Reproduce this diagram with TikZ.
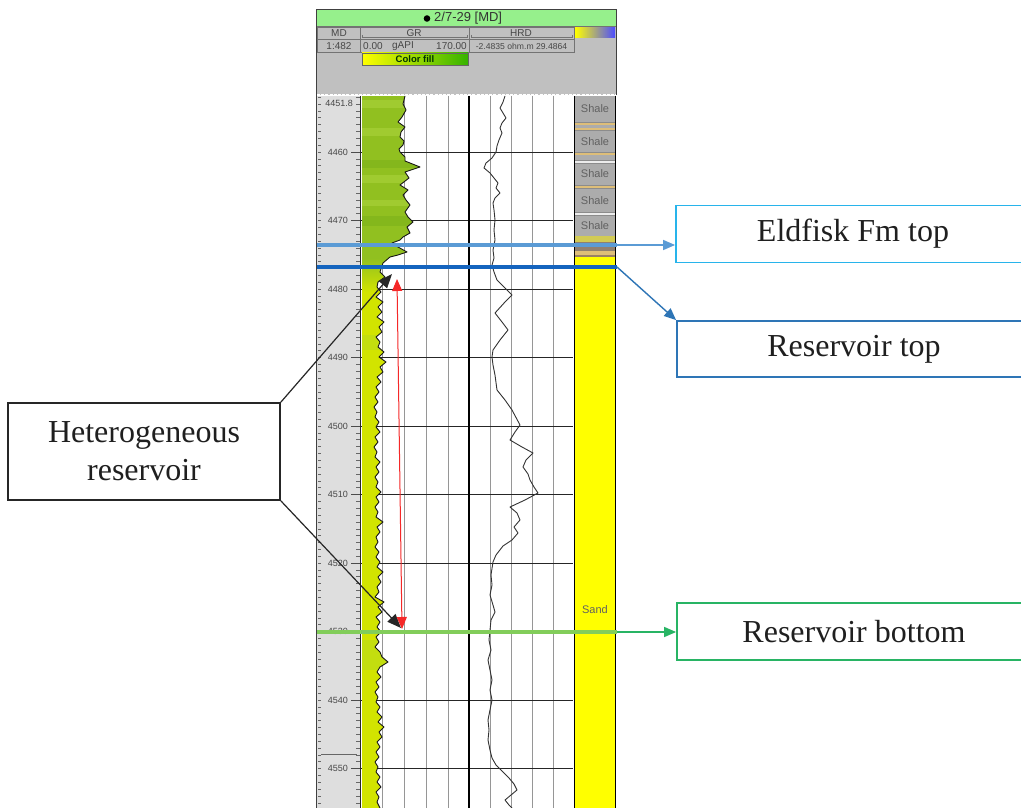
\documentclass[tikz,border=0pt]{standalone}
\usepackage{fontspec}
\setmainfont{Liberation Serif}
\newfontfamily\lsans{Liberation Sans}
\usetikzlibrary{arrows.meta}
\definecolor{eldline}{RGB}{91,155,213}
\definecolor{restopline}{RGB}{20,100,190}
\definecolor{resbotline}{RGB}{130,205,90}
\definecolor{eldbox}{RGB}{40,180,235}
\definecolor{restopbox}{RGB}{46,117,182}
\definecolor{resbotbox}{RGB}{40,180,100}
\definecolor{shalegray}{RGB}{172,172,172}
\definecolor{tanc}{RGB}{222,190,120}
\definecolor{sandyellow}{RGB}{255,255,0}
\definecolor{grgreen}{RGB}{145,192,32}
\definecolor{grlight}{RGB}{160,203,48}
\definecolor{grdark}{RGB}{132,183,28}
\definecolor{grsand}{RGB}{210,228,0}
\definecolor{grsandb}{RGB}{195,222,15}
\definecolor{trackgray}{RGB}{222,222,222}
\definecolor{headgray}{RGB}{192,192,192}
\definecolor{headgreen}{RGB}{150,240,140}
\definecolor{gridgray}{RGB}{150,150,150}
\definecolor{redarrow}{RGB}{245,40,40}
\def\grpts{(405,96) -- (403,104) -- (406,110) -- (402,117) -- (398,122) -- (405,127) -- (401,132) -- (400,137) -- (404,141) -- (403,145) -- (399,149) -- (400,152) -- (405,157) -- (405,161) -- (420,167) -- (405,172) -- (409,178) -- (400,185) -- (408,190) -- (403,195) -- (406,200) -- (410,205) -- (405,212) -- (408,217) -- (413,222) -- (407,227) -- (410,233) -- (403,237) -- (400,240) -- (392,243) -- (398,247) -- (407,252) -- (398,255) -- (390,257) -- (383,263) -- (380,272) -- (385,277) -- (378,282) -- (377,287) -- (381,292) -- (376,297) -- (383,302) -- (378,307) -- (382,312) -- (377,317) -- (384,322) -- (379,327) -- (382,332) -- (376,337) -- (380,342) -- (378,347) -- (384,352) -- (379,357) -- (386,362) -- (380,367) -- (383,372) -- (377,377) -- (381,382) -- (376,387) -- (379,392) -- (375,397) -- (378,402) -- (374,407) -- (377,412) -- (375,417) -- (379,422) -- (376,427) -- (380,432) -- (375,437) -- (378,442) -- (374,447) -- (377,452) -- (375,457) -- (380,462) -- (376,467) -- (379,472) -- (375,477) -- (378,482) -- (376,487) -- (381,492) -- (376,497) -- (379,502) -- (375,507) -- (378,512) -- (376,517) -- (383,522) -- (377,527) -- (380,532) -- (376,537) -- (378,542) -- (375,547) -- (379,552) -- (376,557) -- (380,562) -- (377,567) -- (383,572) -- (378,577) -- (381,582) -- (377,587) -- (379,592) -- (375,597) -- (384,602) -- (378,607) -- (382,612) -- (376,617) -- (380,622) -- (377,627) -- (381,632) -- (376,637) -- (379,642) -- (375,647) -- (380,652) -- (382,657) -- (388,662) -- (380,667) -- (377,672) -- (381,677) -- (376,682) -- (379,687) -- (375,692) -- (378,697) -- (376,702) -- (380,707) -- (377,712) -- (382,717) -- (378,722) -- (384,727) -- (379,732) -- (382,737) -- (377,742) -- (380,747) -- (376,752) -- (379,757) -- (375,762) -- (378,767) -- (376,772) -- (380,777) -- (377,782) -- (381,787) -- (376,792) -- (379,797) -- (377,802) -- (380,808)}
\def\hrdpts{(505,96) -- (503,102) -- (500,108) -- (503,113) -- (506,118) -- (502,123) -- (500,128) -- (502,133) -- (499,140) -- (497,146) -- (496,152) -- (492,158) -- (486,163) -- (484,168) -- (490,173) -- (494,178) -- (498,183) -- (496,188) -- (500,193) -- (495,198) -- (493,203) -- (494,210) -- (495,220) -- (494,230) -- (495,240) -- (493,250) -- (494,258) -- (492,265) -- (494,272) -- (497,280) -- (505,288) -- (512,295) -- (505,302) -- (495,313) -- (502,322) -- (508,330) -- (500,340) -- (493,350) -- (492,357) -- (493,365) -- (495,375) -- (497,390) -- (505,400) -- (512,410) -- (520,425) -- (515,432) -- (510,440) -- (522,447) -- (533,453) -- (526,460) -- (523,467) -- (528,474) -- (530,480) -- (534,487) -- (538,493) -- (525,500) -- (510,507) -- (517,513) -- (520,520) -- (514,527) -- (518,533) -- (512,540) -- (503,546) -- (496,555) -- (493,562) -- (491,575) -- (492,585) -- (490,595) -- (493,605) -- (495,612) -- (491,620) -- (490,630) -- (489,640) -- (491,650) -- (488,660) -- (490,670) -- (492,680) -- (490,690) -- (492,700) -- (490,710) -- (488,720) -- (489,730) -- (488,740) -- (490,750) -- (492,758) -- (496,765) -- (503,772) -- (509,778) -- (514,784) -- (517,790) -- (511,795) -- (505,800) -- (509,805) -- (512,808)}
\begin{document}
\begin{tikzpicture}[x=1pt,y=-1pt,
  callout/.style={draw,line width=1.8pt,fill=white,inner sep=0pt,font=\fontsize{32}{38}\selectfont,text=black!88,align=center},
  mkline/.style={line width=4.5pt},
  gridln/.style={gridgray,line width=0.8pt},
  hgrid/.style={black!85,line width=0.9pt},
  cellline/.style={black!55,line width=0.8pt},
  headtxt/.style={font=\lsans\fontsize{10}{11}\selectfont,text=black!72,inner sep=0pt},
  depthtxt/.style={font=\lsans\fontsize{9}{10}\selectfont,text=black!72,inner sep=0pt,anchor=east},
  lithtxt/.style={font=\lsans\fontsize{11}{12}\selectfont,text=black!62,inner sep=0pt},
  conn/.style={line width=1.4pt,-{Triangle[length=12pt,width=10pt]}},
  blackconn/.style={black!85,line width=1.2pt,-{Triangle[length=14pt,width=11pt]}}]
\clip (0,0) rectangle (1021,808);
\fill[white] (0,0) rectangle (1021,808);
% ---------- header ----------
\fill[headgray] (317,26) rectangle (616,95);
\fill[headgreen] (317,10) rectangle (616,26);
\draw[black!55,line width=0.8pt] (317,26) -- (616,26);
\fill[black] (427,18.5) circle (3.3pt);
\node[font=\lsans\fontsize{13}{14}\selectfont,text=black!80,inner sep=0pt,anchor=west] (wellname) at (434,18.5) {2/7-29 [MD]};
\draw[cellline] (317,27.5) rectangle (360,39.5);
\draw[cellline] (317,39.5) rectangle (360,52);
\draw[cellline] (360,27.5) rectangle (469,39.5);
\draw[cellline] (360,39.5) rectangle (469,52);
\draw[cellline] (469,27.5) rectangle (574,39.5);
\draw[cellline] (469,39.5) rectangle (574,52);
\draw[black!55,line width=0.7pt] (362,35) -- (362,37.5) -- (467,37.5) -- (467,35);
\draw[black!55,line width=0.7pt] (471,35) -- (471,37.5) -- (572,37.5) -- (572,35);
\node[headtxt] (hmd) at (339,33) {MD};
\node[headtxt] (hgr) at (414,33) {GR};
\node[headtxt] (hhrd) at (521,33) {HRD};
\node[headtxt] (hscale) at (339,46) {1:482};
\node[headtxt,anchor=west] (hgrmin) at (363,46) {0.00};
\node[headtxt] (hgrunit) at (403,46) {gAPI};
\node[headtxt,anchor=east] (hgrmax) at (467,46) {170.00};
\node[headtxt,font=\lsans\fontsize{8.6}{9}\selectfont] (hhrdscale) at (521.5,46) {-2.4835 ohm.m 29.4864};
\shade[left color=yellow,right color=yellow!30!green!70!black] (362,53) rectangle (468,65);
\draw[black!60,line width=0.6pt] (362,53) rectangle (468,65);
\node[font=\lsans\bfseries\fontsize{9.5}{10}\selectfont,text=black!50!green!40!black,inner sep=0pt] (cfill) at (415,59) {Color fill};
\shade[left color=yellow,middle color=pink!70!red,right color=blue!70] (575,28) rectangle (615,38);
\draw[white,line width=1.3pt,dash pattern=on 3pt off 1.2pt] (317,94.5) -- (616,94.5);
% ---------- tracks ----------
\fill[trackgray] (317,96) rectangle (360,808);
\foreach \gx in {382,404,426,448,490,511,532,553}{\draw[gridln] (\gx,96) -- (\gx,808);}
\foreach \d in {4460,4470,...,4550}{\draw[hgrid] (360,{152+(\d-4460)*6.85}) -- (573,{152+(\d-4460)*6.85});}
% GR fill
\begin{scope}
\clip (362,96) -- \grpts -- (362,808) -- cycle;
\fill[grgreen] (362,96) rectangle (425,262);
\fill[grlight] (362,100) rectangle (425,108);
\fill[grlight] (362,128) rectangle (425,136);
\fill[grdark] (362,160) rectangle (425,168);
\fill[grlight] (362,175) rectangle (425,183);
\fill[grlight] (362,200) rectangle (425,206);
\fill[grdark] (362,216) rectangle (425,226);
\shade[top color=grgreen,bottom color=grsand] (362,258) rectangle (425,292);
\fill[grsand] (362,292) rectangle (425,808);
\fill[grsandb] (362,335) rectangle (425,350);
\fill[grsandb] (362,640) rectangle (425,670);
\end{scope}
\draw[black!85,line width=1pt] (360,96) -- (360,808);
\draw[black,line width=1.5pt] (469,96) -- (469,808);
\draw[black!90,line width=0.9pt,line join=round] \grpts;
\draw[black!80,line width=0.9pt,line join=round] \hrdpts;
% ---------- lithology ----------
\fill[shalegray] (575,96) rectangle (615,236);
\fill[tanc] (575,122) rectangle (615,124.5);
\fill[tanc] (575,127.5) rectangle (615,130);
\fill[tanc] (575,152) rectangle (615,155);
\fill[white!85!gray] (575,160.5) rectangle (615,163);
\fill[tanc] (575,185) rectangle (615,188);
\fill[white!85!gray] (575,212.5) rectangle (615,215);
\foreach \ly in {122,130,152,160.5,163,185,188,212.5,215}{\draw[black!45,line width=0.5pt] (575,\ly) -- (615,\ly);}
\fill[yellow!60!gray] (575,236) rectangle (615,242);
\fill[gray!75!brown] (575,242) rectangle (615,251);
\fill[tanc] (575,251) rectangle (615,255);
\fill[gray!60!brown] (575,255) rectangle (615,257);
\fill[sandyellow] (575,257) rectangle (615,808);
\node[lithtxt] (sh1) at (595,109) {Shale};
\node[lithtxt] (sh2) at (595,142) {Shale};
\node[lithtxt] (sh3) at (595,174) {Shale};
\node[lithtxt] (sh4) at (595,201) {Shale};
\node[lithtxt] (sh5) at (595,226) {Shale};
\node[lithtxt] (sand) at (595,610) {Sand};
\draw[black,line width=1.8pt] (574.5,96) -- (574.5,808);
\draw[black,line width=1.8pt] (615.5,96) -- (615.5,808);
% ---------- depth scale ----------
\foreach \d in {4452,...,4558}{\draw[black!60,line width=0.5pt] (356,{152+(\d-4460)*6.85}) -- (360,{152+(\d-4460)*6.85}); \draw[black!60,line width=0.5pt] (318,{152+(\d-4460)*6.85}) -- (321,{152+(\d-4460)*6.85});}
\foreach \d in {4460,4470,...,4550}{\draw[black!70,line width=0.7pt] (351,{152+(\d-4460)*6.85}) -- (360,{152+(\d-4460)*6.85}); \node[depthtxt] (dl\d) at (348,{152+(\d-4460)*6.85}) {\d};}
\node[depthtxt] (dltop) at (353,103) {4451.8};
\draw[black!60,line width=1pt] (321,754) -- (357,754);
% ---------- panel border ----------
\draw[black!75,line width=1.5pt] (316.5,9.5) -- (316.5,808);
\draw[black!75,line width=1.5pt] (316.5,9.5) -- (616.5,9.5) -- (616.5,95);
% ---------- marker lines ----------
\coordinate (eldL) at (317,245);
\coordinate (eldR) at (617,245);
\coordinate (rtL) at (317,267);
\coordinate (rtR) at (617,267);
\coordinate (rbL) at (317,632);
\coordinate (rbR) at (617,632);
\draw[mkline,eldline] (eldL) -- (eldR);
\draw[mkline,restopline] (rtL) -- (rtR);
\draw[mkline,resbotline] (rbL) -- (rbR);
% ---------- callouts ----------
\node[callout,draw=eldbox,minimum width=354pt,minimum height=57pt] (eld) at (853,234) {Eldfisk Fm top};
\node[callout,draw=restopbox,minimum width=354pt,minimum height=56pt] (rtop) at (854,349) {Reservoir top};
\node[callout,draw=resbotbox,minimum width=354pt,minimum height=57pt] (rbot) at (854,631.5) {Reservoir bottom};
\node[callout,draw=black!85,minimum width=272pt,minimum height=97pt] (het) at (144,451.5) {Heterogeneous\\reservoir};
\draw[conn,eldline] (eldR) -- (eldR -| eld.west);
\draw[conn,restopbox] (rtR) -- (rtop.north west);
\draw[conn,resbotbox] (rbR) -- (rbR -| rbot.west);
\coordinate (blkA) at (392,274);
\coordinate (blkB) at (401,628);
\draw[blackconn] (het.north east) -- (blkA);
\draw[blackconn] (het.south east) -- (blkB);
\coordinate (redA) at (397,279);
\coordinate (redB) at (402,629);
\draw[redarrow,line width=1pt,{Triangle[length=12pt,width=10pt]}-{Triangle[length=12pt,width=10pt]}] (redA) -- (redB);
\end{tikzpicture}
\end{document}
